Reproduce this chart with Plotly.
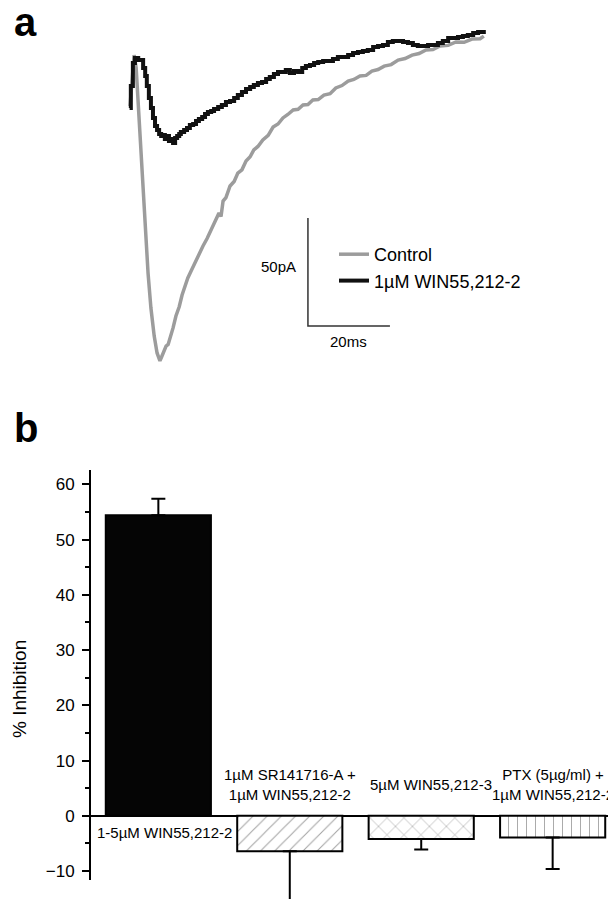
import plotly.graph_objects as go

# ---- panel a: current traces (time in ms, current in pA) ----
ctrl_t = [0.0, 0.5, 1.0, 1.5, 2.2, 2.9, 3.7, 4.4, 5.1, 5.9, 6.6, 7.3, 7.8, 8.3, 8.8,
          9.3, 9.8, 10.5, 11.2, 12.0, 12.7, 13.4, 14.1, 14.9, 15.9, 16.8, 17.8, 18.8,
          19.8, 20.7, 21.7, 22.2, 22.7, 23.4, 24.4, 25.4, 26.3, 27.3, 28.3, 29.3, 30.2,
          31.2, 32.4, 33.7, 34.9, 36.1, 37.3, 38.5, 39.8, 41.0, 42.2, 43.4, 44.6, 45.9,
          47.3, 48.8, 50.2, 51.7, 53.2, 54.6, 56.1, 57.6, 59.0, 60.5, 62.0, 63.7, 65.4,
          67.1, 68.8, 70.5, 72.2, 73.9, 75.6, 77.6, 79.5, 81.5, 83.4, 85.4, 86.3]
ctrl_i = [0.9, 13.9, 24.5, 18.5, -4.6, -30.1, -53.2, -76.4, -92.6, -105.6, -113.4,
          -117.1, -114.8, -112.6, -110.2, -109.5, -106.5, -101.8, -96.3, -92.0, -86.6,
          -82.5, -78.7, -75.5, -71.3, -68.4, -63.9, -60.4, -56.5, -52.6, -48.6, -50.2,
          -43.1, -41.5, -36.1, -34.0, -30.1, -28.6, -24.5, -22.6, -19.4, -17.8, -14.8,
          -12.7, -8.8, -7.4, -4.6, -3.0, -0.9, -0.6, 1.4, 1.6, 3.7, 3.9, 6.0, 6.6, 9.3,
          10.4, 12.5, 13.2, 14.8, 15.1, 17.1, 17.8, 19.4, 20.1, 22.2, 22.9, 24.5, 25.2,
          26.9, 27.1, 28.7, 29.0, 30.6, 30.4, 31.9, 32.1, 33.3]

win_t = [-0.1, 0.2, 0.7, 1.2, 2.0, 2.7, 3.2, 3.7, 4.1, 4.6, 5.1, 5.6, 6.1, 6.6, 7.1,
         7.6, 8.0, 8.5, 9.0, 9.5, 10.0, 10.5, 11.0, 11.5, 12.0, 12.4, 13.2, 13.9, 14.6,
         15.4, 16.1, 16.8, 17.6, 18.3, 19.0, 19.8, 20.5, 21.5, 22.4, 23.4, 24.4, 25.4,
         26.3, 27.3, 28.3, 29.3, 30.2, 31.2, 32.2, 33.2, 34.1, 35.1, 36.1, 37.1, 38.0,
         39.0, 40.0, 41.0, 42.0, 42.9, 43.9, 44.9, 45.9, 47.1, 48.3, 49.5, 50.7, 52.0,
         53.2, 54.4, 55.6, 56.8, 58.0, 59.3, 60.5, 61.7, 62.9, 64.1, 65.4, 66.6, 67.8,
         69.0, 70.2, 71.5, 72.7, 73.9, 75.1, 76.3, 77.6, 78.8, 80.0, 81.2, 82.4, 83.7,
         84.9, 86.3]
win_i = [0.0, 10.2, 20.8, 23.1, 22.2, 22.2, 18.5, 14.8, 10.2, 4.6, 0.0, -4.6, -8.3,
         -10.2, -12.0, -13.0, -12.5, -14.4, -13.0, -15.3, -14.4, -16.2, -13.9, -13.0,
         -12.0, -11.1, -10.2, -9.3, -7.9, -7.4, -6.0, -5.1, -4.2, -2.8, -1.9, -1.4, -0.5,
         0.5, 1.4, 2.8, 3.2, 4.6, 6.0, 7.4, 8.8, 9.7, 10.6, 11.6, 12.0, 13.4, 14.4, 15.7,
         16.7, 16.7, 17.6, 16.2, 17.1, 16.7, 18.5, 19.4, 19.9, 20.8, 21.3, 21.8, 21.8,
         22.7, 23.6, 23.6, 24.5, 25.5, 25.9, 26.4, 26.9, 28.2, 28.7, 29.2, 30.6, 31.0,
         31.0, 30.6, 30.1, 29.2, 28.7, 28.7, 29.2, 29.2, 30.1, 31.0, 32.4, 32.4, 32.9,
         33.3, 33.8, 34.7, 35.2, 36.1]

trace_names = ['Control', '1\u00b5M WIN55,212-2']

# scale bar: 20 ms x 50 pA
bar_t0 = 43.4
bar_i0 = -100.9
bar_ms = 20
bar_pa = 50

# ---- panel b: % inhibition ----
conditions = ['1-5\u00b5M WIN55,212-2',
              '1\u00b5M SR141716-A +<br>1\u00b5M WIN55,212-2',
              '5\u00b5M WIN55,212-3',
              'PTX (5\u00b5g/ml) +<br>1\u00b5M WIN55,212-2']
inhibition = [54.4, -6.4, -4.2, -3.9]
sem = [3.0, 9.1, 1.9, 5.7]
y_ticks = [-10, 0, 10, 20, 30, 40, 50, 60]
y_minor = [-5, 5, 15, 25, 35, 45, 55]
axis_lo, axis_hi = -11.6, 62.6

FONT = 'Liberation Sans, Arial, sans-serif'

fig = go.Figure()

fig.add_trace(go.Scatter(
    x=ctrl_t, y=ctrl_i, mode='lines', name=trace_names[0],
    line=dict(color='#9c9c9c', width=3.5), xaxis='x2', yaxis='y2',
    legendgroup='c'
))
fig.add_trace(go.Scatter(
    x=win_t, y=win_i, mode='lines', name=trace_names[1],
    line=dict(color='#111111', width=4, shape='hv'), xaxis='x2', yaxis='y2',
    legendgroup='w'
))
fig.add_trace(go.Scatter(
    x=[bar_t0, bar_t0, bar_t0 + bar_ms],
    y=[bar_i0 + bar_pa, bar_i0, bar_i0],
    mode='lines', line=dict(color='#333333', width=1.5),
    xaxis='x2', yaxis='y2', showlegend=False, hoverinfo='skip'
))

err_up = [s if v >= 0 else 0 for v, s in zip(inhibition, sem)]
err_dn = [s if v < 0 else 0 for v, s in zip(inhibition, sem)]

fig.add_trace(go.Bar(
    x=list(range(len(conditions))), y=inhibition, width=0.8,
    marker=dict(
        color=['#050505', 'white', 'white', 'white'],
        line=dict(color='black', width=2),
        pattern=dict(shape=['', '/', 'x', '|'], fgcolor='#7a7a7a',
                     size=[8, 10, 12, 9], solidity=0.1)
    ),
    error_y=dict(type='data', symmetric=False, array=err_up, arrayminus=err_dn,
                 color='black', thickness=2, width=7),
    cliponaxis=False,
    showlegend=False
))

annotations = [
    dict(text='<b>a</b>', x=4 / 616, y=1 - 14 / 899, xref='paper', yref='paper',
         xanchor='left', yanchor='middle', showarrow=False,
         font=dict(family=FONT, size=40, color='black')),
    dict(text='<b>b</b>', x=4 / 616, y=1 - 420 / 899, xref='paper', yref='paper',
         xanchor='left', yanchor='middle', showarrow=False,
         font=dict(family=FONT, size=40, color='black')),
    dict(text='50pA', x=bar_t0 - 7.3, y=bar_i0 + 27.3, xref='x2', yref='y2',
         showarrow=False, font=dict(family=FONT, size=15, color='black')),
    dict(text='20ms', x=bar_t0 + 10, y=bar_i0 - 7, xref='x2', yref='y2',
         showarrow=False, font=dict(family=FONT, size=15, color='black')),
    dict(text='% Inhibition', x=11 / 616, y=1 - 681 / 899, xref='paper', yref='paper',
         xanchor='center', yanchor='middle', textangle=-90, showarrow=False,
         font=dict(family=FONT, size=19, color='black')),
]
label_y = [-3.1, 5.6, 5.6, 5.6]
label_shift = [6, 0, 10, 0]
for i, name in enumerate(conditions):
    annotations.append(dict(
        text=name, x=i, y=label_y[i], xref='x', yref='y', xshift=label_shift[i],
        xanchor='center', yanchor='middle',
        showarrow=False, font=dict(family=FONT, size=15, color='black')
    ))

fig.update_layout(
    width=616, height=899,
    margin=dict(l=0, r=0, t=0, b=0),
    plot_bgcolor='white', paper_bgcolor='white',
    font=dict(family=FONT, color='black'),
    xaxis=dict(
        domain=[82 / 616, 613 / 616], range=[-0.52, 3.52],
        visible=False
    ),
    yaxis=dict(
        domain=[0, 437 / 899], range=[-16.5, axis_hi],
        showgrid=False, showline=False,
        zeroline=True, zerolinecolor='black', zerolinewidth=2,
        tickvals=y_ticks, ticks='outside', ticklen=7, tickwidth=1.5,
        tickcolor='black', ticklabelstandoff=4,
        tickfont=dict(family=FONT, size=17, color='black'),
        minor=dict(tickvals=y_minor, ticks='outside', ticklen=4, tickwidth=1.5,
                   tickcolor='black', showgrid=False)
    ),
    xaxis2=dict(
        domain=[110 / 616, 490 / 616], range=[-2.93, 89.76],
        visible=False, anchor='y2'
    ),
    yaxis2=dict(
        domain=[529 / 899, 879 / 899], range=[-125.0, 37.04],
        visible=False, anchor='x2'
    ),
    shapes=[
        dict(type='line', xref='x domain', yref='y', x0=0, x1=0,
             y0=axis_lo, y1=axis_hi, line=dict(color='black', width=2))
    ],
    showlegend=True,
    legend=dict(
        x=326 / 616, y=1 - 228 / 899, xanchor='left', yanchor='top',
        bgcolor='rgba(0,0,0,0)', font=dict(family=FONT, size=18, color='black'),
        tracegroupgap=0, traceorder='grouped'
    ),
    annotations=annotations
)

fig.write_html('out.html')
